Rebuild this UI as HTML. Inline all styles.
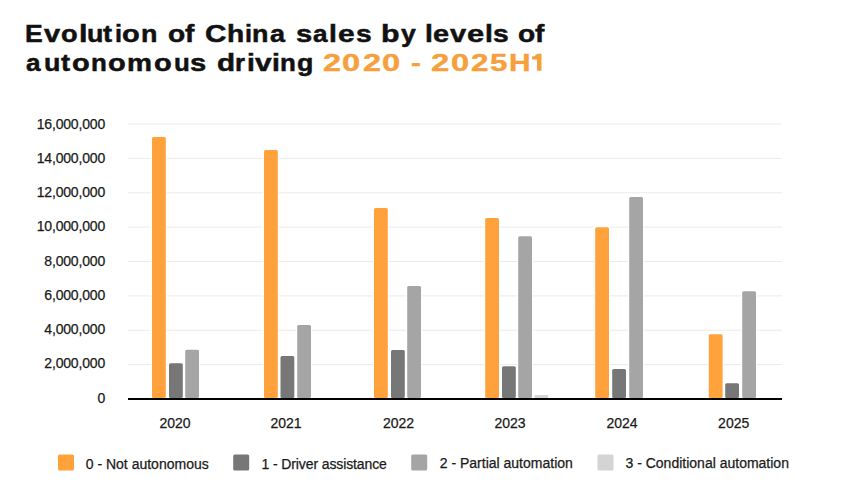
<!DOCTYPE html>
<html><head><meta charset="utf-8">
<style>
html,body{margin:0;padding:0;background:#fff;width:860px;height:500px;overflow:hidden;}
body{position:relative;font-family:"Liberation Sans",sans-serif;}
.w{position:absolute;font-weight:bold;font-size:24.5px;color:#111;-webkit-text-stroke:0.5px currentColor;white-space:pre;line-height:1;transform-origin:0 0;}
.o{color:#f5a03c;-webkit-text-stroke:0.4px currentColor;}
svg{position:absolute;left:0;top:0;}
svg text{font-family:"Liberation Sans",sans-serif;}
</style></head>
<body>
<span class="w" style="left:25.04px;top:22px;transform:scaleX(1.084)">E</span>
<span class="w" style="left:43.68px;top:22px;transform:scaleX(1.187)">v</span>
<span class="w" style="left:61.17px;top:22px;transform:scaleX(1.111)">o</span>
<span class="w" style="left:78.75px;top:22px;transform:scaleX(1.250)">l</span>
<span class="w" style="left:87.13px;top:22px;transform:scaleX(1.098)">u</span>
<span class="w" style="left:103.44px;top:22px;transform:scaleX(1.111)">t</span>
<span class="w" style="left:114.51px;top:22px;transform:scaleX(1.026)">i</span>
<span class="w" style="left:122.11px;top:22px;transform:scaleX(1.185)">o</span>
<span class="w" style="left:141.02px;top:22px;transform:scaleX(1.098)">n</span>
<span class="w" style="left:167.64px;top:22px;transform:scaleX(1.148)">o</span>
<span class="w" style="left:185.33px;top:22px;transform:scaleX(1.145)">f</span>
<span class="w" style="left:204.59px;top:22px;transform:scaleX(1.212)">C</span>
<span class="w" style="left:226.84px;top:22px;transform:scaleX(1.148)">h</span>
<span class="w" style="left:244.51px;top:22px;transform:scaleX(1.026)">i</span>
<span class="w" style="left:252.02px;top:22px;transform:scaleX(1.098)">n</span>
<span class="w" style="left:269.50px;top:22px;transform:scaleX(1.103)">a</span>
<span class="w" style="left:296.23px;top:22px;transform:scaleX(1.189)">s</span>
<span class="w" style="left:312.52px;top:22px;transform:scaleX(1.066)">a</span>
<span class="w" style="left:329.33px;top:22px;transform:scaleX(1.154)">l</span>
<span class="w" style="left:338.09px;top:22px;transform:scaleX(1.220)">e</span>
<span class="w" style="left:356.25px;top:22px;transform:scaleX(1.148)">s</span>
<span class="w" style="left:381.33px;top:22px;transform:scaleX(1.240)">b</span>
<span class="w" style="left:400.55px;top:22px;transform:scaleX(1.087)">y</span>
<span class="w" style="left:424.83px;top:22px;transform:scaleX(1.154)">l</span>
<span class="w" style="left:432.62px;top:22px;transform:scaleX(1.179)">e</span>
<span class="w" style="left:450.18px;top:22px;transform:scaleX(1.187)">v</span>
<span class="w" style="left:467.05px;top:22px;transform:scaleX(1.260)">e</span>
<span class="w" style="left:484.83px;top:22px;transform:scaleX(1.154)">l</span>
<span class="w" style="left:492.75px;top:22px;transform:scaleX(1.148)">s</span>
<span class="w" style="left:517.64px;top:22px;transform:scaleX(1.148)">o</span>
<span class="w" style="left:535.33px;top:22px;transform:scaleX(1.145)">f</span>
<span class="w" style="left:26.02px;top:51px;transform:scaleX(1.066)">a</span>
<span class="w" style="left:43.63px;top:51px;transform:scaleX(1.098)">u</span>
<span class="w" style="left:60.94px;top:51px;transform:scaleX(1.111)">t</span>
<span class="w" style="left:71.61px;top:51px;transform:scaleX(1.185)">o</span>
<span class="w" style="left:91.07px;top:51px;transform:scaleX(1.057)">n</span>
<span class="w" style="left:108.11px;top:51px;transform:scaleX(1.185)">o</span>
<span class="w" style="left:127.45px;top:51px;transform:scaleX(1.146)">m</span>
<span class="w" style="left:154.11px;top:51px;transform:scaleX(1.185)">o</span>
<span class="w" style="left:173.68px;top:51px;transform:scaleX(1.057)">u</span>
<span class="w" style="left:190.23px;top:51px;transform:scaleX(1.189)">s</span>
<span class="w" style="left:216.59px;top:51px;transform:scaleX(1.211)">d</span>
<span class="w" style="left:235.08px;top:51px;transform:scaleX(1.049)">r</span>
<span class="w" style="left:246.83px;top:51px;transform:scaleX(1.154)">i</span>
<span class="w" style="left:254.68px;top:51px;transform:scaleX(1.223)">v</span>
<span class="w" style="left:271.83px;top:51px;transform:scaleX(1.154)">i</span>
<span class="w" style="left:280.07px;top:51px;transform:scaleX(1.057)">n</span>
<span class="w" style="left:296.68px;top:51px;transform:scaleX(1.094)">g</span>
<span class="w o" style="left:323.07px;top:51px;transform:scaleX(1.322)">2</span>
<span class="w o" style="left:342.43px;top:51px;transform:scaleX(1.333)">0</span>
<span class="w o" style="left:362.57px;top:51px;transform:scaleX(1.322)">2</span>
<span class="w o" style="left:381.93px;top:51px;transform:scaleX(1.333)">0</span>
<span class="w o" style="left:410.53px;top:51px;transform:scaleX(1.212)">-</span>
<span class="w o" style="left:431.36px;top:51px;transform:scaleX(1.339)">2</span>
<span class="w o" style="left:450.93px;top:51px;transform:scaleX(1.333)">0</span>
<span class="w o" style="left:470.60px;top:51px;transform:scaleX(1.281)">2</span>
<span class="w o" style="left:490.23px;top:51px;transform:scaleX(1.280)">5</span>
<span class="w o" style="left:508.80px;top:51px;transform:scaleX(1.216)">H</span>
<svg width="860" height="500" viewBox="0 0 860 500">
<g stroke="#ebebeb" stroke-width="1">
<line x1="128" x2="782" y1="124" y2="124"/>
<line x1="128" x2="782" y1="158.4" y2="158.4"/>
<line x1="128" x2="782" y1="192.75" y2="192.75"/>
<line x1="128" x2="782" y1="227.1" y2="227.1"/>
<line x1="128" x2="782" y1="261.5" y2="261.5"/>
<line x1="128" x2="782" y1="295.9" y2="295.9"/>
<line x1="128" x2="782" y1="330.25" y2="330.25"/>
<line x1="128" x2="782" y1="364.6" y2="364.6"/>
</g>
<g font-size="14" fill="#1a1a1a" stroke="#1a1a1a" stroke-width="0.25" text-anchor="end" letter-spacing="-0.18">
<text x="105" y="129">16,000,000</text>
<text x="105" y="163">14,000,000</text>
<text x="105" y="197">12,000,000</text>
<text x="105" y="231">10,000,000</text>
<text x="105" y="266">8,000,000</text>
<text x="105" y="300">6,000,000</text>
<text x="105" y="334">4,000,000</text>
<text x="105" y="368">2,000,000</text>
<text x="105" y="403">0</text>
</g>
<g fill="#ffa23c" stroke="#fff" stroke-width="2" paint-order="stroke">
<rect x="152" y="137" width="13.8" height="261" rx="1.5"/>
<rect x="264" y="150" width="13.8" height="248" rx="1.5"/>
<rect x="374" y="208" width="13.8" height="190" rx="1.5"/>
<rect x="485.2" y="218" width="13.8" height="180" rx="1.5"/>
<rect x="595.2" y="227.25" width="13.8" height="170.75" rx="1.5"/>
<rect x="708.8" y="334.2" width="13.8" height="63.8" rx="1.5"/>
</g>
<g fill="#777777" stroke="#fff" stroke-width="2" paint-order="stroke">
<rect x="169" y="363.2" width="13.8" height="34.8" rx="1.5"/>
<rect x="280.5" y="356" width="13.8" height="42" rx="1.5"/>
<rect x="391" y="350" width="13.8" height="48" rx="1.5"/>
<rect x="502" y="366.2" width="13.8" height="31.8" rx="1.5"/>
<rect x="612.2" y="369" width="13.8" height="29" rx="1.5"/>
<rect x="725.2" y="383.2" width="13.8" height="14.8" rx="1.5"/>
</g>
<g fill="#a5a5a5" stroke="#fff" stroke-width="2" paint-order="stroke">
<rect x="185.2" y="349.7" width="13.8" height="48.3" rx="1.5"/>
<rect x="297.2" y="325" width="13.8" height="73" rx="1.5"/>
<rect x="407.2" y="286" width="13.8" height="112" rx="1.5"/>
<rect x="518.2" y="236.2" width="13.8" height="161.8" rx="1.5"/>
<rect x="629.2" y="197" width="13.8" height="201" rx="1.5"/>
<rect x="742.2" y="291.2" width="13.8" height="106.8" rx="1.5"/>
</g>
<g fill="#d4d4d4" stroke="#fff" stroke-width="2" paint-order="stroke">
<rect x="534.5" y="395" width="13.8" height="3" rx="1"/>
</g>
<rect x="128" y="398" width="654" height="2" fill="#000"/>
<polygon fill="#f5a03c" points="537,53.8 541.5,53.8 541.5,70.8 537,70.8 537,59.6 532,59.6 532,56.6 534.2,56.3 536.2,54.8"/>
<g font-size="14" fill="#1a1a1a" stroke="#1a1a1a" stroke-width="0.25" text-anchor="middle">
<text x="175" y="428">2020</text>
<text x="286" y="428">2021</text>
<text x="398.5" y="428">2022</text>
<text x="510" y="428">2023</text>
<text x="622" y="428">2024</text>
<text x="733.7" y="428">2025</text>
</g>
<rect x="58" y="454.5" width="16" height="16" rx="1.5" fill="#ffa23c"/>
<rect x="233.2" y="454.5" width="16" height="16" rx="1.5" fill="#777777"/>
<rect x="411.2" y="454.5" width="16" height="16" rx="1.5" fill="#a5a5a5"/>
<rect x="597.5" y="454.5" width="16" height="16" rx="1.5" fill="#d4d4d4"/>
<g font-size="14" fill="#1a1a1a" stroke="#1a1a1a" stroke-width="0.25">
<text x="85.75" y="469">0 - Not autonomous</text>
<text x="261.5" y="469" letter-spacing="-0.11">1 - Driver assistance</text>
<text x="439.75" y="468">2 - Partial automation</text>
<text x="625.5" y="468">3 - Conditional automation</text>
</g>
</svg>
</body></html>
